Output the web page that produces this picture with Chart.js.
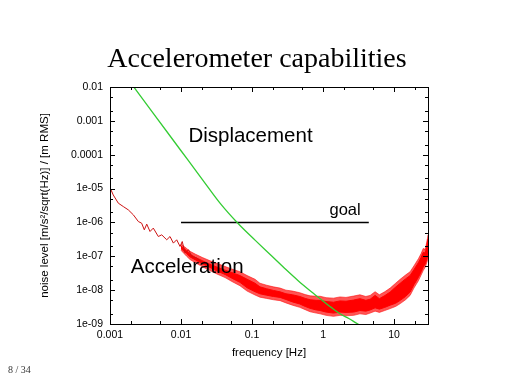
<!DOCTYPE html>
<html>
<head>
<meta charset="utf-8">
<script src="https://cdn.jsdelivr.net/npm/chart.js@4.4.1/dist/chart.umd.min.js"></script>
<style>
  html, body { margin: 0; padding: 0; background: #fff; }
  #wrap { width: 512px; height: 384px; }
</style>
</head>
<body>
<div id="wrap"><canvas id="chart" width="512" height="384"></canvas></div>
<script>
// slide texts
const slideTitle = 'Accelerometer capabilities';
const pageLabel = '8 / 34';

// axis ticks (decade labels, minor ticks at 2 and 5)
const xTicks = [0.001, 0.002, 0.005, 0.01, 0.02, 0.05, 0.1, 0.2, 0.5, 1, 2, 5, 10, 20];
const xLabels = ['0.001', '', '', '0.01', '', '', '0.1', '', '', '1', '', '', '10', ''];
const yTicks = [1e-9, 2e-9, 5e-9, 1e-8, 2e-8, 5e-8, 1e-7, 2e-7, 5e-7, 1e-6, 2e-6, 5e-6,
                1e-5, 2e-5, 5e-5, 1e-4, 2e-4, 5e-4, 1e-3, 2e-3, 5e-3, 1e-2];
const yLabels = ['1e-09', '', '', '1e-08', '', '', '1e-07', '', '', '1e-06', '', '',
                 '1e-05', '', '', '0.0001', '', '', '0.001', '', '', '0.01'];

// Displacement curve (green)
const dispFreq = [0.0020, 0.00407, 0.01, 0.02, 0.0354, 0.0641, 0.112, 0.191, 0.30, 0.45,
                  0.65, 0.908, 1.3, 1.73, 2.3, 2.82, 3.5];
const dispLevel = [1.25e-2, 1.67e-3, 1.31e-4, 1.84e-5, 3.7e-6, 9.1e-7, 2.9e-7, 1e-7, 4.05e-8, 1.87e-8,
                   9.8e-9, 5.6e-9, 3.1e-9, 2.0e-9, 1.45e-9, 1.12e-9, 8.5e-10];

// goal level
const goalFreq = [0.01, 4.4];
const goalLevel = [1e-6, 1e-6];

// Acceleration noise, low-frequency part (single trace)
const accFreq = [0.001, 0.00111, 0.00131, 0.00154, 0.00181, 0.00213, 0.00251, 0.00279,
                 0.00304, 0.00329, 0.00366, 0.00407, 0.00479, 0.00535, 0.00629, 0.0070,
                 0.0078, 0.00869, 0.00969, 0.0104, 0.0114, 0.0127, 0.0142, 0.0166, 0.0196];
const accLevel = [1.07e-5, 6.5e-6, 3.7e-6, 2.94e-6, 2.35e-6, 1.68e-6, 1.06e-6, 9.5e-7,
                  6.05e-7, 8.9e-7, 5.4e-7, 6.8e-7, 3.84e-7, 4.3e-7, 3.07e-7, 3.84e-7,
                  2.45e-7, 3.07e-7, 1.95e-7, 2.73e-7, 1.24e-7, 1.56e-7, 9.9e-8, 8.9e-8, 6.7e-8];

// Acceleration noise, dense part: spike extent (outer) and solid core of the band
const bandFreq = [0.010, 0.012, 0.0134, 0.016, 0.02, 0.0255, 0.032, 0.0417, 0.052, 0.0675,
                  0.085, 0.11, 0.129, 0.16, 0.2, 0.248, 0.3, 0.37, 0.47, 0.56,
                  0.656, 0.8, 0.908, 1.1, 1.4, 1.73, 2.1, 2.7, 3.3, 4.0,
                  4.6, 5.4, 6.2, 7.4, 8.8, 10.5, 12.2, 14.5, 16.8, 19,
                  22, 24, 25.7, 27.5, 29.5, 30];
const spikeUpper = [2.3e-7, 1.7e-7, 1.4e-7, 1.15e-7, 9.2e-8, 7.4e-8, 6.2e-8, 5.0e-8, 4.2e-8, 3.5e-8,
                    2.7e-8, 2.1e-8, 1.6e-8, 1.4e-8, 1.25e-8, 1.15e-8, 1.0e-8, 9.4e-9, 8.4e-9, 7.4e-9,
                    6.8e-9, 6.6e-9, 6.6e-9, 6.0e-9, 5.8e-9, 6.3e-9, 6.1e-9, 6.7e-9, 7.3e-9, 6.5e-9,
                    7.0e-9, 9.0e-9, 7.3e-9, 9.0e-9, 1.15e-8, 1.6e-8, 2.1e-8, 2.8e-8, 3.5e-8, 5.2e-8,
                    8.5e-8, 1.2e-7, 1.7e-7, 1.6e-7, 3.4e-7, 4.3e-7];
const spikeLower = [1.5e-7, 1.0e-7, 8.0e-8, 6.4e-8, 4.9e-8, 3.8e-8, 3.0e-8, 2.35e-8, 1.8e-8, 1.35e-8,
                    9.4e-9, 7.2e-9, 6.2e-9, 5.7e-9, 5.2e-9, 4.9e-9, 4.2e-9, 3.6e-9, 3.1e-9, 2.65e-9,
                    2.3e-9, 2.1e-9, 2.0e-9, 1.8e-9, 1.68e-9, 1.8e-9, 1.75e-9, 1.8e-9, 2.0e-9, 1.9e-9,
                    2.1e-9, 2.4e-9, 2.2e-9, 2.5e-9, 2.85e-9, 3.3e-9, 4.0e-9, 5.2e-9, 7.0e-9, 1.15e-8,
                    1.9e-8, 2.8e-8, 3.8e-8, 4.8e-8, 7.5e-8, 8.5e-8];
const coreUpper = [2.0e-7, 1.45e-7, 1.15e-7, 9.2e-8, 7.4e-8, 5.8e-8, 4.8e-8, 3.9e-8, 3.3e-8, 2.7e-8,
                   2.1e-8, 1.6e-8, 1.25e-8, 1.1e-8, 9.8e-9, 8.9e-9, 7.8e-9, 7.3e-9, 6.5e-9, 5.7e-9,
                   5.2e-9, 5.0e-9, 5.0e-9, 4.6e-9, 4.4e-9, 4.8e-9, 4.7e-9, 5.1e-9, 5.6e-9, 5.0e-9,
                   5.4e-9, 7.0e-9, 5.6e-9, 6.9e-9, 8.8e-9, 1.23e-8, 1.6e-8, 2.15e-8, 2.7e-8, 4.0e-8,
                   6.5e-8, 9.2e-8, 1.3e-7, 1.25e-7, 2.6e-7, 3.3e-7];
const coreLower = [1.7e-7, 1.2e-7, 9.6e-8, 7.8e-8, 6.0e-8, 4.7e-8, 3.7e-8, 2.9e-8, 2.25e-8, 1.7e-8,
                   1.18e-8, 9.0e-9, 7.8e-9, 7.1e-9, 6.5e-9, 6.1e-9, 5.3e-9, 4.5e-9, 3.9e-9, 3.3e-9,
                   2.9e-9, 2.6e-9, 2.5e-9, 2.25e-9, 2.1e-9, 2.25e-9, 2.2e-9, 2.25e-9, 2.5e-9, 2.4e-9,
                   2.6e-9, 3.0e-9, 2.75e-9, 3.1e-9, 3.6e-9, 4.1e-9, 5.0e-9, 6.5e-9, 8.8e-9, 1.45e-8,
                   2.4e-8, 3.5e-8, 4.8e-8, 6.0e-8, 9.4e-8, 1.05e-7];

const toPoints = (xs, ys) => xs.map((x, i) => ({ x: x, y: ys[i] }));

// gnuplot-like frame: box on four sides with inward ticks, plus slide texts
const framePlugin = {
    id: 'frame',
    afterDraw(chart) {
        const ctx = chart.ctx;
        const area = chart.chartArea;
        const xs = chart.scales.x;
        const ys = chart.scales.y;
        ctx.save();
        ctx.strokeStyle = '#000';
        ctx.lineWidth = 1;
        ctx.beginPath();
        xTicks.forEach((v, i) => {
            const px = Math.round(xs.getPixelForValue(v)) + 0.5;
            const len = xLabels[i] ? 5 : 3;
            ctx.moveTo(px, area.bottom); ctx.lineTo(px, area.bottom - len);
            ctx.moveTo(px, area.top); ctx.lineTo(px, area.top + len);
        });
        yTicks.forEach((v, i) => {
            const py = Math.round(ys.getPixelForValue(v)) + 0.5;
            const len = yLabels[i] ? 5 : 3;
            ctx.moveTo(area.left, py); ctx.lineTo(area.left + len, py);
            ctx.moveTo(area.right, py); ctx.lineTo(area.right - len, py);
        });
        ctx.stroke();
        ctx.strokeRect(Math.round(area.left) + 0.5, Math.round(area.top) + 0.5,
                       Math.round(area.right - area.left), Math.round(area.bottom - area.top));

        // curve annotations, anchored in data space
        ctx.fillStyle = '#000';
        ctx.textBaseline = 'alphabetic';
        ctx.textAlign = 'left';
        ctx.font = '20.5px "Liberation Sans", Arial, sans-serif';
        ctx.fillText('Displacement', xs.getPixelForValue(0.0127), ys.getPixelForValue(2.39e-4));
        ctx.fillText('Acceleration', xs.getPixelForValue(0.00196), ys.getPixelForValue(3.19e-8));
        ctx.font = '16.5px "Liberation Sans", Arial, sans-serif';
        ctx.fillText('goal', xs.getPixelForValue(1.23), ys.getPixelForValue(1.68e-6));

        // slide title and page number
        ctx.textAlign = 'center';
        ctx.font = '28px "Liberation Serif", "Times New Roman", serif';
        ctx.fillText(slideTitle, 257, 67);
        ctx.textAlign = 'left';
        ctx.fillStyle = '#333';
        ctx.font = '10px "Liberation Serif", "Times New Roman", serif';
        ctx.fillText(pageLabel, 8, 373);
        ctx.restore();
    }
};

const tickFont = { family: '"Liberation Sans", Arial, sans-serif', size: 10.5 };
const titleFont = { family: '"Liberation Sans", Arial, sans-serif', size: 11.5 };

const plainLine = (label, xs, ys, color, width) => ({
    label: label,
    data: toPoints(xs, ys),
    borderColor: color,
    borderWidth: width,
    pointRadius: 0,
    fill: false
});

new Chart(document.getElementById('chart'), {
    type: 'line',
    data: {
        datasets: [
            Object.assign(plainLine('Displacement', dispFreq, dispLevel, '#33cc33', 1.3),
                          { cubicInterpolationMode: 'monotone' }),
            plainLine('goal', goalFreq, goalLevel, '#000', 1.5),
            plainLine('Acceleration (low f)', accFreq, accLevel, '#cc1111', 1),
            Object.assign(plainLine('Acceleration core', bandFreq, coreUpper, '#ff0000', 1),
                          { backgroundColor: '#ff0000', fill: '+1' }),
            plainLine('Acceleration core low', bandFreq, coreLower, '#ff0000', 1),
            Object.assign(plainLine('Acceleration spikes', bandFreq, spikeUpper, 'rgba(255,0,0,0.7)', 0.8),
                          { backgroundColor: 'rgba(255,20,20,0.72)', fill: '+1' }),
            plainLine('Acceleration spikes low', bandFreq, spikeLower, 'rgba(255,0,0,0.7)', 0.8)
        ]
    },
    options: {
        responsive: false,
        animation: false,
        devicePixelRatio: 1,
        layout: { padding: { left: 0, top: 87, right: 84, bottom: 18 } },
        plugins: {
            legend: { display: false },
            tooltip: { enabled: false }
        },
        scales: {
            x: {
                type: 'logarithmic',
                min: 0.001,
                max: 30,
                grid: { display: false, drawTicks: false },
                border: { display: false },
                afterBuildTicks: (scale) => { scale.ticks = xTicks.map(v => ({ value: v })); },
                afterFit: (scale) => { scale.height = 42; },
                ticks: {
                    autoSkip: false,
                    maxRotation: 0,
                    padding: 5,
                    color: '#000',
                    font: tickFont,
                    callback: (value, index) => xLabels[index]
                },
                title: {
                    display: true,
                    text: 'frequency [Hz]',
                    color: '#000',
                    font: titleFont,
                    padding: { top: 4, bottom: 6 }
                }
            },
            y: {
                type: 'logarithmic',
                min: 1e-9,
                max: 0.01,
                grid: { display: false, drawTicks: false },
                border: { display: false },
                afterBuildTicks: (scale) => { scale.ticks = yTicks.map(v => ({ value: v })); },
                afterFit: (scale) => { scale.width = 110; },
                ticks: {
                    autoSkip: false,
                    padding: 7,
                    color: '#000',
                    font: tickFont,
                    callback: (value, index) => yLabels[index]
                },
                title: {
                    display: true,
                    text: 'noise level [m/s²/sqrt(Hz)] / [m RMS]',
                    color: '#000',
                    font: titleFont,
                    padding: { top: 38, bottom: 4 }
                }
            }
        }
    },
    plugins: [framePlugin]
});
</script>
</body>
</html>
